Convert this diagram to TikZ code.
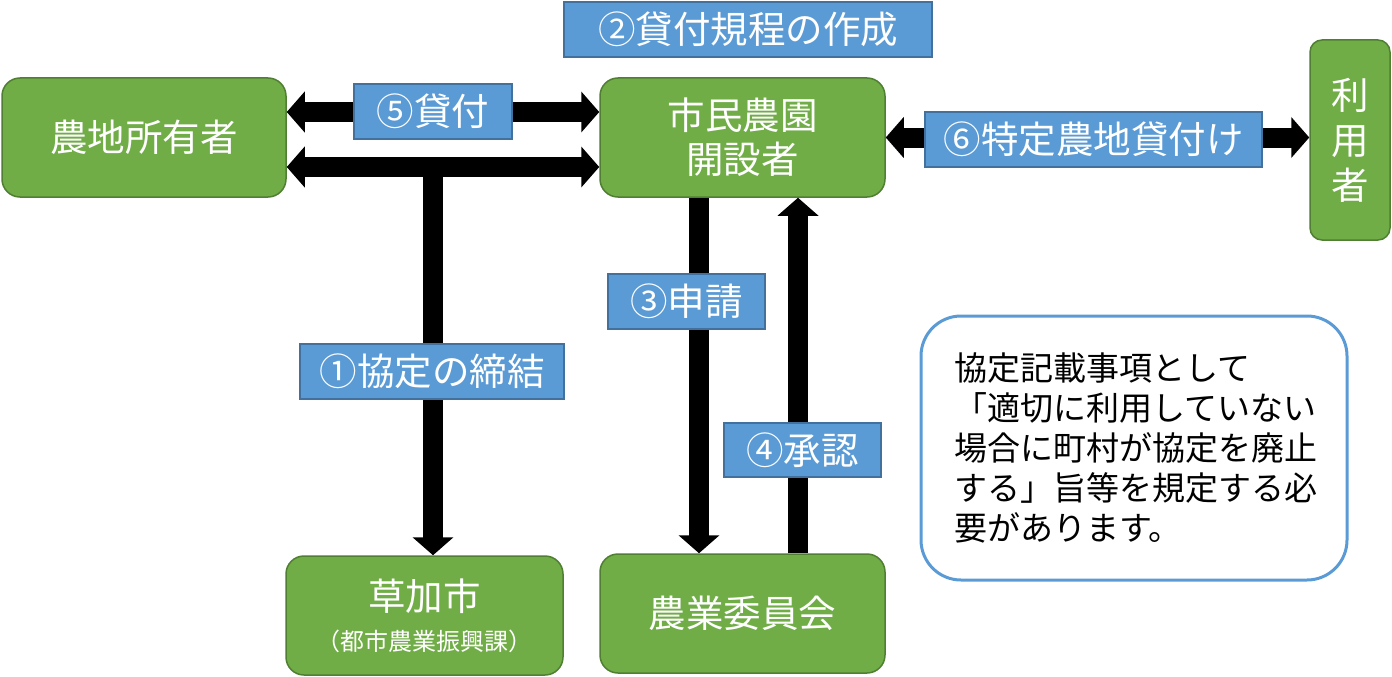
\documentclass[tikz,border=0pt]{standalone}
\usepackage{fontspec}
\setmainfont{Noto Sans CJK JP}
\usetikzlibrary{arrows.meta}
\definecolor{gfill}{HTML}{70AD47}
\definecolor{gdraw}{HTML}{507E32}
\definecolor{bfill}{HTML}{5B9BD5}
\definecolor{bdraw}{HTML}{41719C}
\begin{document}
\begin{tikzpicture}[x=1pt,y=-1pt,
 gbox/.style={draw=gdraw,fill=gfill,line width=1.5pt,rounded corners=18pt,text=white,
   font=\fontsize{37.5}{44}\selectfont,align=center,inner sep=0pt},
 lbl/.style={draw=bdraw,fill=bfill,line width=1.5pt,text=white,
   font=\fontsize{37.5}{44}\selectfont,inner sep=0pt},
 bigarrow/.style={line width=20pt,{Triangle[width=40pt,length=18pt]}-{Triangle[width=40pt,length=18pt]}},
 onearrow/.style={line width=20pt,-{Triangle[width=40pt,length=18pt]}},
]
\useasboundingbox (0,0) rectangle (1392,677);

% main boxes
\node[gbox,minimum width=284pt,minimum height=119pt] (owner) at (144,137.5) {農地所有者};
\node[gbox,minimum width=285pt,minimum height=119pt] (kaisetsu) at (742.5,137.5) {市民農園\\開設者};
\node[gbox,minimum width=80pt,minimum height=200pt,rounded corners=12pt,
      font=\fontsize{37.5}{45}\selectfont] (riyou) at (1350,140) {利\\用\\者};
\node[gbox,minimum width=277pt,minimum height=119pt] (souka) at (424.5,615.5)
  {草加市\\[-4pt]{\fontsize{24}{28}\selectfont （都市農業振興課）}};
\node[gbox,minimum width=285pt,minimum height=119pt] (nougyou) at (742.5,613.5) {農業委員会};

\node[draw=bfill,fill=white,line width=3pt,rounded corners=40pt,
      minimum width=426pt,minimum height=264pt,inner sep=0pt,
      text width=360pt,align=left,font=\fontsize{33}{40}\selectfont] (note) at (1134,448)
  {協定記載事項として\\「適切に利用していない\\場合に町村が協定を廃止\\する」旨等を規定する必\\要があります。};

% arrows
\draw[bigarrow] ([yshift=25.5pt]owner.east) -- ([yshift=25.5pt]kaisetsu.west);
\draw[bigarrow] ([yshift=-29.5pt]owner.east) -- ([yshift=-29.5pt]kaisetsu.west);
\coordinate (j) at (433,167);
\draw[onearrow] (j) -- (j |- souka.north);
\draw[onearrow] ([xshift=-43.5pt]kaisetsu.south) -- ([xshift=-43.5pt]nougyou.north);
\draw[onearrow] ([xshift=55.5pt]nougyou.north) -- ([xshift=55.5pt]kaisetsu.south);
\draw[bigarrow] (kaisetsu.east) -- (kaisetsu.east -| riyou.west);

% labels
\node[lbl,minimum width=368pt,minimum height=55pt] (l2) at (748,29.5) {②貸付規程の作成};
\node[lbl,minimum width=158pt,minimum height=55pt] (l5) at (433,111.5) {⑤貸付};
\node[lbl,minimum width=157pt,minimum height=55pt] (l3) at (686.5,301.5) {③申請};
\node[lbl,minimum width=264pt,minimum height=55pt] (l1) at (432,371.5) {①協定の締結};
\node[lbl,minimum width=157pt,minimum height=54pt] (l4) at (802.5,450) {④承認};
\node[lbl,minimum width=337pt,minimum height=55pt] (l6) at (1093.5,139.5) {⑥特定農地貸付け};
\end{tikzpicture}
\end{document}
